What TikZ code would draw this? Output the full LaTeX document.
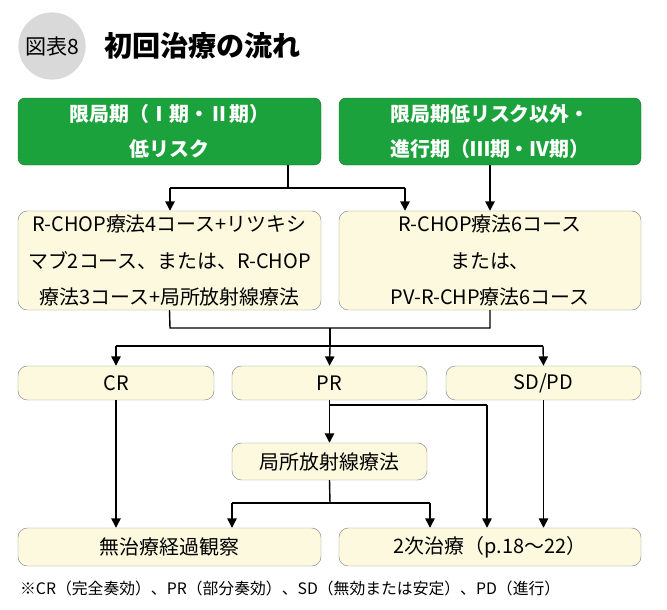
\documentclass[tikz,border=0pt]{standalone}
\usepackage{fontspec}
\setmainfont{Noto Sans CJK JP}
\usetikzlibrary{arrows.meta}
\definecolor{grn}{HTML}{1BA23C}
\definecolor{yel}{HTML}{FDF9DE}
\definecolor{brd}{HTML}{8A8A8A}
\begin{document}
\begin{tikzpicture}[x=0.03cm,y=-0.03cm,
 gbox/.style={draw=grn!70!black,fill=grn,rounded corners=6pt,text=white,font=\bfseries\fontsize{17}{30}\selectfont,align=center,inner sep=0},
 ybox/.style={draw=brd,fill=yel,rounded corners=8pt,font=\fontsize{17}{31}\selectfont,align=center,inner sep=0},
 arr/.style={-{Triangle[length=8pt,width=8pt]},line width=1.2pt},
 ln/.style={line width=1.2pt}]
\useasboundingbox[fill=white] (0,0) rectangle (667,609);
\node[circle,fill=black!15,minimum size=1.8cm,font=\fontsize{18}{22}\selectfont] (c) at (52,46) {図表8};
\node[anchor=west,font=\bfseries\fontsize{24}{28}\selectfont] (t) at (100,46) {初回治療の流れ};
\node[gbox,minimum width=303*0.03cm,minimum height=67*0.03cm] (g1) at (169.5,131.5) {限局期（Ⅰ期・Ⅱ期）\\低リスク};
\node[gbox,minimum width=302*0.03cm,minimum height=67*0.03cm] (g2) at (490,131.5) {限局期低リスク以外・\\進行期（Ⅲ期・Ⅳ期）};
\node[ybox,minimum width=303*0.03cm,minimum height=99*0.03cm] (y1) at (169.5,260.5) {R-CHOP療法4コース+リツキシ\\マブ2コース、または、R-CHOP\\療法3コース+局所放射線療法};
\node[ybox,minimum width=302*0.03cm,minimum height=99*0.03cm] (y2) at (490,260.5) {R-CHOP療法6コース\\または、\\PV-R-CHP療法6コース};
\node[ybox,minimum width=196*0.03cm,minimum height=34*0.03cm] (cr) at (116,383) {CR};
\node[ybox,minimum width=195*0.03cm,minimum height=34*0.03cm] (pr) at (329.5,383) {PR};
\node[ybox,minimum width=195*0.03cm,minimum height=34*0.03cm] (sd) at (543.5,383) {SD/PD};
\node[ybox,minimum width=195*0.03cm,minimum height=37*0.03cm] (rt) at (329.5,461.5) {局所放射線療法};
\node[ybox,minimum width=303*0.03cm,minimum height=38*0.03cm] (b1) at (169.5,547) {無治療経過観察};
\node[ybox,minimum width=302*0.03cm,minimum height=38*0.03cm] (b2) at (490,547) {2次治療（p.18～22）};
\node[anchor=west,font=\fontsize{13.5}{16}\selectfont] (fn) at (16,588) {※CR（完全奏効）、PR（部分奏効）、SD（無効または安定）、PD（進行）};
% connectors
\coordinate (j1) at (288,188);
\draw[ln] (g1.south -| j1) -- (j1);
\draw[ln] (170,188) -- (405,188);
\draw[arr] (170,188) -- (y1.north -| 170,0);
\draw[arr] (405,188) -- (y2.north -| 405,0);
\draw[arr] (g2.south) -- (y2.north -| g2.south);
\draw[ln] (y1.south) -- (170,328) -- (490,328) -- (y2.south -| 490,0);
\draw[ln] (330,328) -- (330,346);
\draw[ln] (116,346) -- (543,346);
\draw[arr] (116,346) -- (cr.north);
\draw[arr] (330,346) -- (pr.north);
\draw[arr] (543,346) -- (sd.north);
\draw[arr] (cr.south) -- (b1.north -| cr.south);
\draw[arr] (pr.south) -- (rt.north);
\draw[ln] (330,405) -- (487,405);
\draw[arr] (487,405) -- (b2.north -| 487,0);
\draw[arr] (sd.south) -- (b2.north -| sd.south);
\draw[ln] (rt.south) -- (330,503);
\draw[ln] (232,503) -- (430,503);
\draw[arr] (232,503) -- (b1.north -| 232,0);
\draw[arr] (430,503) -- (b2.north -| 430,0);
\end{tikzpicture}
\end{document}
